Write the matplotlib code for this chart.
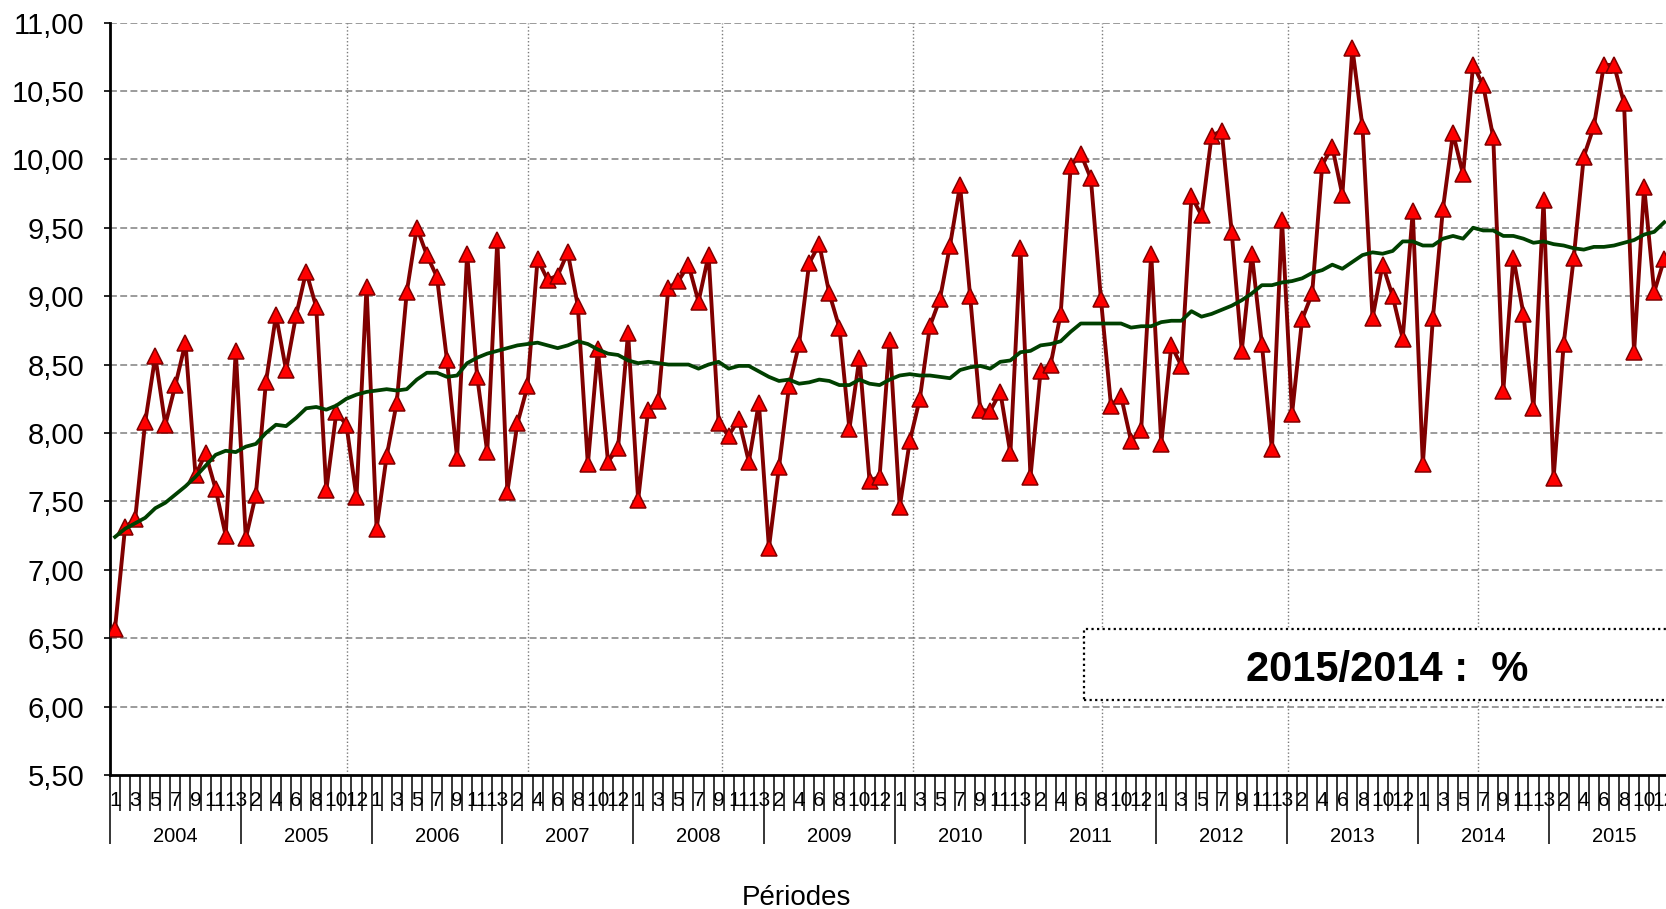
import numpy as np
import matplotlib
matplotlib.use("Agg")
import matplotlib.pyplot as plt
from matplotlib.patches import Rectangle

plt.rcParams['font.family'] = ['Liberation Sans', 'DejaVu Sans']

# valeurs par période (13 périodes par an), 2004 -> 2015
annees = [2004, 2005, 2006, 2007, 2008, 2009, 2010, 2011, 2012, 2013, 2014, 2015]
nb_periodes = 13

valeurs = [
    6.57, 7.31, 7.37, 8.08, 8.56, 8.06, 8.35, 8.66, 7.69, 7.85, 7.59, 7.25, 8.60,
    7.23, 7.55, 8.37, 8.86, 8.46, 8.86, 9.18, 8.92, 7.58, 8.15, 8.06, 7.53, 9.07,
    7.30, 7.83, 8.22, 9.03, 9.50, 9.30, 9.14, 8.53, 7.82, 9.31, 8.41, 7.86, 9.41,
    7.57, 8.07, 8.34, 9.27, 9.12, 9.15, 9.32, 8.93, 7.77, 8.61, 7.79, 7.89, 8.73,
    7.51, 8.17, 8.23, 9.06, 9.11, 9.23, 8.96, 9.30, 8.07, 7.98, 8.10, 7.79, 8.22,
    7.16, 7.75, 8.34, 8.65, 9.24, 9.38, 9.02, 8.77, 8.03, 8.55, 7.65, 7.68, 8.68,
    7.46, 7.94, 8.25, 8.78, 8.98, 9.37, 9.81, 9.00, 8.17, 8.16, 8.30, 7.85, 9.35,
    7.68, 8.45, 8.50, 8.87, 9.95, 10.04, 9.86, 8.98, 8.20, 8.27, 7.94, 8.02, 9.31,
    7.92, 8.64, 8.49, 9.73, 9.59, 10.17, 10.21, 9.47, 8.60, 9.31, 8.65, 7.88, 9.56,
    8.14, 8.83, 9.02, 9.96, 10.09, 9.74, 10.81, 10.24, 8.84, 9.23, 9.00, 8.69, 9.62,
    7.77, 8.84, 9.64, 10.19, 9.89, 10.69, 10.54, 10.16, 8.31, 9.28, 8.87, 8.18, 9.70,
    7.67, 8.65, 9.28, 10.02, 10.24, 10.69, 10.69, 10.41, 8.59, 9.80, 9.03, 9.27,
]

# moyenne mobile (courbe verte)
moyenne = [
    7.24, 7.30, 7.34, 7.38, 7.45, 7.49, 7.55, 7.61, 7.68, 7.76, 7.84, 7.87, 7.86,
    7.90, 7.92, 8.00, 8.06, 8.05, 8.11, 8.18, 8.19, 8.17, 8.20, 8.25, 8.28, 8.30,
    8.31, 8.32, 8.31, 8.32, 8.39, 8.44, 8.44, 8.41, 8.42, 8.51, 8.55, 8.58, 8.60,
    8.62, 8.64, 8.65, 8.66, 8.64, 8.62, 8.64, 8.67, 8.65, 8.61, 8.58, 8.57, 8.53,
    8.51, 8.52, 8.51, 8.50, 8.50, 8.50, 8.47, 8.50, 8.52, 8.47, 8.49, 8.49, 8.45,
    8.41, 8.38, 8.39, 8.36, 8.37, 8.39, 8.38, 8.35, 8.35, 8.39, 8.36, 8.35, 8.39,
    8.42, 8.43, 8.42, 8.42, 8.41, 8.40, 8.46, 8.48, 8.49, 8.47, 8.52, 8.53, 8.59,
    8.60, 8.64, 8.65, 8.67, 8.74, 8.80, 8.80, 8.80, 8.80, 8.80, 8.77, 8.78, 8.78,
    8.81, 8.82, 8.82, 8.89, 8.85, 8.87, 8.90, 8.93, 8.97, 9.02, 9.08, 9.08, 9.10,
    9.11, 9.13, 9.17, 9.19, 9.23, 9.20, 9.25, 9.30, 9.32, 9.31, 9.33, 9.40, 9.40,
    9.37, 9.37, 9.42, 9.44, 9.42, 9.50, 9.48, 9.48, 9.44, 9.44, 9.42, 9.39, 9.40,
    9.38, 9.37, 9.35, 9.34, 9.36, 9.36, 9.37, 9.39, 9.41, 9.45, 9.47, 9.54,
]

y_ticks = [5.5, 6.0, 6.5, 7.0, 7.5, 8.0, 8.5, 9.0, 9.5, 10.0, 10.5, 11.0]
grille_x = [23.56, 41.55, 60.87, 79.82, 98.6, 117.1, 136.0]
texte_evol = "2015/2014 :  %"

W, H = 1666, 909
fig = plt.figure(figsize=(W / 100, H / 100), dpi=100)
n_total = nb_periodes * len(annees)
ax_left, ax_bottom, ax_top = 110, 775, 22.5
ax_w = n_total * 10.06
ax = fig.add_axes([ax_left / W, (H - ax_bottom) / H, ax_w / W, (ax_bottom - ax_top) / H])

x = np.arange(len(valeurs)) + 0.5
ax.plot(x, valeurs, color='#800000', lw=2.8, marker='^', markersize=11.5,
        markerfacecolor='#ff0000', markeredgecolor='#800000', markeredgewidth=1.1, zorder=3)
ax.plot(np.arange(len(moyenne)) + 0.5, moyenne, color='#004000', lw=2.7, zorder=4)

ax.set_xlim(0, n_total)
ax.set_ylim(5.5, 11.0)

# grille
for yv in y_ticks[1:]:
    ax.axhline(yv, color='#808080', lw=1.1, linestyle=(0, (4.5, 2.2)), zorder=1)
for gx in grille_x:
    ax.axvline(gx, color='#7a7a7a', lw=1.0, linestyle=(0, (1, 1.6)), zorder=1)

ax.set_yticks(y_ticks)
ax.set_yticklabels([f"{v:.2f}".replace('.', ',') for v in y_ticks], fontsize=21)
ax.tick_params(axis='y', direction='out', length=4.5, width=1.2, pad=14)

# axe des x : séparateurs de périodes et d'années
ax.set_xticks(np.arange(0, n_total + 1, nb_periodes))
ax.set_xticklabels([])
ax.set_xticks(np.arange(0, n_total + 1), minor=True)
ax.tick_params(axis='x', which='major', direction='out', length=50, width=1.1)
ax.tick_params(axis='x', which='minor', direction='out', length=26, width=1.1)

tr = ax.get_xaxis_transform()
for i in range(0, n_total, 2):
    ax.annotate(str(i % nb_periodes + 1), (i + 0.5, 0), xycoords=tr,
                xytext=(0, -18), textcoords='offset points', ha='center', va='center',
                fontsize=15, family=['Liberation Sans Narrow', 'Liberation Sans'],
                annotation_clip=False)
for k, an in enumerate(annees):
    ax.annotate(str(an), (k * nb_periodes + nb_periodes / 2, 0), xycoords=tr,
                xytext=(0, -44), textcoords='offset points', ha='center', va='center',
                fontsize=14.5, annotation_clip=False)

for s in ['top', 'right']:
    ax.spines[s].set_visible(False)
for s in ['left', 'bottom']:
    ax.spines[s].set_linewidth(2)
    ax.spines[s].set_color('black')

fig.text(796 / W, 1 - 898 / H, "Périodes", fontsize=20, ha='center', va='center')

# encadré
boite = Rectangle((1084 / W, (H - 700) / H), (1720 - 1084) / W, 71 / H, transform=fig.transFigure,
                  facecolor='white', edgecolor='black', lw=1.6, linestyle=(0, (1, 1.5)), zorder=6)
fig.patches.append(boite)
fig.text(1387 / W, 1 - 670 / H, texte_evol, fontsize=30, fontweight='bold',
         ha='center', va='center', zorder=7)

fig.savefig('out.png', dpi=100)
